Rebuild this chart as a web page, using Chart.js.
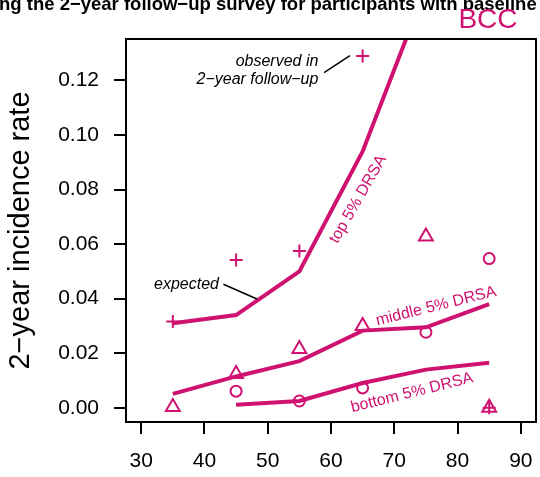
<!DOCTYPE html>
<html lang="en">
<head>
    <meta charset="UTF-8">
    <title>BCC 2-year incidence rate</title>
    <script src="https://cdn.jsdelivr.net/npm/chart.js"></script>
    <style>
        body { margin: 0; background: #fff; }
    </style>
</head>
<body>
    <canvas id="incidenceChart" width="540" height="477"></canvas>
    <script>
        const ageGroups = [35, 45, 55, 65, 75, 85];
        // expected (lines) and observed (markers) per DRSA group
        const topExpected = [0.031, 0.034, 0.050, 0.094, 0.154, null];
        const topObserved = [0.0316, 0.0542, 0.0575, 0.129, null, 0.0];
        const middleExpected = [0.0051, 0.0115, 0.0171, 0.0283, 0.0295, 0.038];
        const middleObserved = [0.0003, 0.0124, 0.0216, 0.030, 0.0628, 0.0];
        const bottomExpected = [null, 0.0011, 0.0025, 0.0091, 0.014, 0.0165];
        const bottomObserved = [null, 0.0061, 0.0025, 0.0073, 0.0277, 0.0547];
        const xTicks = [30, 40, 50, 60, 70, 80, 90];
        const yTicks = [0, 0.02, 0.04, 0.06, 0.08, 0.10, 0.12];

        const pink = '#CF1270';
        const fontFamily = '"Liberation Sans", Arial, Helvetica, sans-serif';

        function toPoints(values) {
            return ageGroups.map((x, i) => ({ x: x, y: values[i] }));
        }

        function lineSet(label, values) {
            return {
                label: label,
                data: toPoints(values),
                borderColor: pink,
                borderWidth: 4,
                pointRadius: 0,
                tension: 0,
                fill: false
            };
        }

        function markerSet(label, values, style, radius) {
            return {
                label: label,
                data: toPoints(values),
                showLine: false,
                borderColor: pink,
                backgroundColor: 'rgba(0,0,0,0)',
                pointStyle: style,
                pointRadius: radius,
                pointBorderWidth: 2,
                pointBorderColor: pink,
                pointBackgroundColor: 'rgba(0,0,0,0)'
            };
        }

        // box, title, and text annotations the way the R figure has them
        const decorations = {
            id: 'decorations',
            afterDraw(chart) {
                const ctx = chart.ctx;
                const area = chart.chartArea;
                const xs = chart.scales.x;
                const ys = chart.scales.y;
                const px = v => xs.getPixelForValue(v);
                const py = v => ys.getPixelForValue(v);

                ctx.save();
                ctx.strokeStyle = '#000';
                ctx.lineWidth = 2;
                ctx.strokeRect(area.left, area.top, area.right - area.left, area.bottom - area.top);

                // clipped main title
                ctx.fillStyle = '#000';
                ctx.font = 'bold 18.5px ' + fontFamily;
                ctx.textAlign = 'left';
                ctx.textBaseline = 'alphabetic';
                ctx.fillText('ng the 2\u2212year follow\u2212up survey for participants with baseline', -1, 10);

                ctx.fillStyle = pink;
                ctx.font = '28px ' + fontFamily;
                ctx.textAlign = 'center';
                ctx.fillText('BCC', 488, 28);

                // italic notes with leader lines
                ctx.fillStyle = '#000';
                ctx.font = 'italic 16px ' + fontFamily;
                ctx.textAlign = 'right';
                ctx.textBaseline = 'middle';
                ctx.fillText('observed in', px(58.0), py(0.1269));
                ctx.fillText('2\u2212year follow\u2212up', px(58.0), py(0.1203));
                ctx.fillText('expected', px(42.3), py(0.0453));

                ctx.strokeStyle = '#000';
                ctx.lineWidth = 1.5;
                ctx.beginPath();
                ctx.moveTo(px(58.9), py(0.1229));
                ctx.lineTo(px(63.0), py(0.1291));
                ctx.moveTo(px(43.0), py(0.0453));
                ctx.lineTo(px(48.3), py(0.0399));
                ctx.stroke();

                // group labels along the lines
                ctx.fillStyle = pink;
                ctx.font = '16px ' + fontFamily;
                ctx.textAlign = 'center';
                const groupLabels = [
                    ['top 5% DRSA', 64.3, 0.0764, 60],
                    ['middle 5% DRSA', 76.6, 0.0372, 14],
                    ['bottom 5% DRSA', 72.8, 0.0055, 14]
                ];
                groupLabels.forEach(([text, x, y, angle]) => {
                    ctx.save();
                    ctx.translate(px(x), py(y));
                    ctx.rotate(-angle * Math.PI / 180);
                    ctx.fillText(text, 0, 0);
                    ctx.restore();
                });
                ctx.restore();
            }
        };

        const config = {
            type: 'line',
            data: {
                datasets: [
                    lineSet('top expected', topExpected),
                    lineSet('middle expected', middleExpected),
                    lineSet('bottom expected', bottomExpected),
                    markerSet('top observed', topObserved, 'cross', 6.5),
                    markerSet('middle observed', middleObserved, 'triangle', 8),
                    markerSet('bottom observed', bottomObserved, 'circle', 5.5)
                ]
            },
            options: {
                responsive: false,
                animation: false,
                layout: { autoPadding: false, padding: { top: 39, right: 4, left: 0, bottom: 0 } },
                plugins: {
                    legend: { display: false },
                    tooltip: { enabled: false }
                },
                scales: {
                    x: {
                        type: 'linear',
                        min: 27.6,
                        max: 92.4,
                        afterBuildTicks: s => { s.ticks = xTicks.map(v => ({ value: v })); },
                        afterFit: s => { s.height = 55; s.paddingLeft = 0; s.paddingRight = 0; },
                        grid: { drawOnChartArea: false, tickLength: 12, color: '#000', lineWidth: 2 },
                        border: { display: false },
                        ticks: {
                            color: '#000',
                            font: { family: fontFamily, size: 21 },
                            padding: 15,
                            maxRotation: 0
                        }
                    },
                    y: {
                        type: 'linear',
                        min: -0.0052,
                        max: 0.1352,
                        afterBuildTicks: s => { s.ticks = yTicks.map(v => ({ value: v })); },
                        afterFit: s => { s.width = 126; s.paddingTop = 0; s.paddingBottom = 0; },
                        grid: { drawOnChartArea: false, tickLength: 12, color: '#000', lineWidth: 2 },
                        border: { display: false },
                        ticks: {
                            color: '#000',
                            font: { family: fontFamily, size: 21 },
                            padding: 15,
                            callback: v => v.toFixed(2)
                        },
                        title: {
                            display: true,
                            text: '2\u2212year incidence rate',
                            color: '#000',
                            font: { family: fontFamily, size: 29 },
                            padding: { top: 4, bottom: 0 }
                        }
                    }
                }
            },
            plugins: [decorations]
        };

        const chart = new Chart(document.getElementById('incidenceChart'), config);
    </script>
</body>
</html>
